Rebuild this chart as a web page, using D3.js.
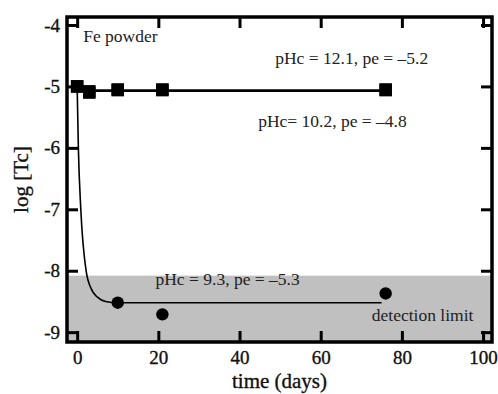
<!DOCTYPE html>
<html>
<head>
<meta charset="utf-8">
<script src="https://cdn.jsdelivr.net/npm/d3@7"></script>
<style>
  body { margin: 0; background: #fff; }
</style>
</head>
<body>
<svg id="chart" width="498" height="394"></svg>
<script>
// data
const xTicks = [0, 20, 40, 60, 80, 100];
const yTicks = [-4, -5, -6, -7, -8, -9];
const detectionLimit = -8.08;

// pHc = 12.1 and pHc = 10.2 (squares, overlapping)
const squaresA = [[0, -5.0], [3, -5.10], [10, -5.06], [21, -5.06], [76, -5.06]];
const squaresB = [[0, -5.0], [3, -5.08], [10, -5.05], [21, -5.05], [76, -5.05]];
const squareLine = [[0, -5.07], [76, -5.07]];

// pHc = 9.3 (circles) and its fitted curve
const circles = [[0, -5.0], [10, -8.52], [21, -8.71], [76, -8.37]];
const fitCurve = [[0, -5.0], [0.3, -6.0], [0.9, -7.0], [2.2, -8.0], [3.5, -8.3],
                  [5, -8.43], [7, -8.5], [10, -8.52], [75, -8.52]];

const labels = [
    { text: "Fe powder", x: 1.5, y: -4.27 },
    { text: "pHc = 12.1, pe = \u20135.2", x: 48.8, y: -4.64 },
    { text: "pHc= 10.2, pe = \u20134.8", x: 44.6, y: -5.66 },
    { text: "pHc = 9.3, pe = \u20135.3", x: 19.3, y: -8.24 },
    { text: "detection limit", x: 72.6, y: -8.82 }
];

const serif = "Liberation Serif, Times New Roman, serif";
const svg = d3.select("#chart");
const m = { left: 67, top: 17, right: 6, bottom: 52 };
const w = 498 - m.left - m.right;
const h = 394 - m.top - m.bottom;

const x = d3.scaleLinear().domain([-2.5, 102.2]).range([0, w]);
const y = d3.scaleLinear().domain([-9.16, -3.87]).range([h, 0]);

const g = svg.append("g").attr("transform", `translate(${m.left},${m.top})`);

// detection limit band
g.append("rect")
    .attr("x", 0).attr("y", y(detectionLimit))
    .attr("width", w).attr("height", h - y(detectionLimit))
    .attr("fill", "#c0c0c0");

// lines
g.append("path")
    .datum(fitCurve)
    .attr("fill", "none").attr("stroke", "#000").attr("stroke-width", 1.6)
    .attr("d", d3.line().x(d => x(d[0])).y(d => y(d[1])).curve(d3.curveMonotoneX));

g.append("path")
    .datum(squareLine)
    .attr("fill", "none").attr("stroke", "#000").attr("stroke-width", 2.8)
    .attr("d", d3.line().x(d => x(d[0])).y(d => y(d[1])));

// markers
const sq = 12.5;
[squaresA, squaresB].forEach(s => {
    g.selectAll(null).data(s).join("rect")
        .attr("x", d => x(d[0]) - sq / 2).attr("y", d => y(d[1]) - sq / 2)
        .attr("width", sq).attr("height", sq).attr("fill", "#000");
});
g.selectAll(null).data(circles).join("circle")
    .attr("cx", d => x(d[0])).attr("cy", d => y(d[1])).attr("r", 6.2).attr("fill", "#000");

// annotations
g.selectAll(null).data(labels).join("text")
    .attr("x", d => x(d.x)).attr("y", d => y(d.y))
    .attr("font-family", serif)
    .attr("font-size", 17.5)
    .attr("fill", "#222")
    .text(d => d.text);

// axes with inward ticks on all four sides
const tl = 11;
const styleAxis = sel => {
    sel.attr("font-family", serif);
    sel.select(".domain").remove();
    sel.selectAll(".tick line").attr("stroke", "#000").attr("stroke-width", 3);
    sel.selectAll(".tick text")
        .attr("font-size", 19).attr("fill", "#111")
        .attr("stroke", "#111").attr("stroke-width", 0.35);
};
g.append("g").attr("transform", `translate(0,${h})`)
    .call(d3.axisBottom(x).tickValues(xTicks).tickSize(-tl).tickPadding(9).tickFormat(d => String(d)))
    .call(styleAxis);
g.append("g")
    .call(d3.axisTop(x).tickValues(xTicks).tickSize(-tl).tickFormat(""))
    .call(styleAxis);
g.append("g")
    .call(d3.axisLeft(y).tickValues(yTicks).tickSize(-tl).tickPadding(7).tickFormat(d => String(d)))
    .call(styleAxis);
g.append("g").attr("transform", `translate(${w},0)`)
    .call(d3.axisRight(y).tickValues(yTicks).tickSize(-tl).tickFormat(""))
    .call(styleAxis);

// frame
g.append("rect")
    .attr("width", w).attr("height", h)
    .attr("fill", "none").attr("stroke", "#000").attr("stroke-width", 3.5);

// axis titles
svg.append("text")
    .attr("x", m.left + w / 2).attr("y", 388)
    .attr("text-anchor", "middle")
    .attr("font-family", serif).attr("font-size", 21)
    .attr("fill", "#111").attr("stroke", "#111").attr("stroke-width", 0.35)
    .text("time (days)");
svg.append("text")
    .attr("transform", `translate(28,${m.top + h / 2}) rotate(-90)`)
    .attr("text-anchor", "middle")
    .attr("font-family", serif).attr("font-size", 21)
    .attr("fill", "#111").attr("stroke", "#111").attr("stroke-width", 0.35)
    .text("log [Tc]");
</script>
</body>
</html>
